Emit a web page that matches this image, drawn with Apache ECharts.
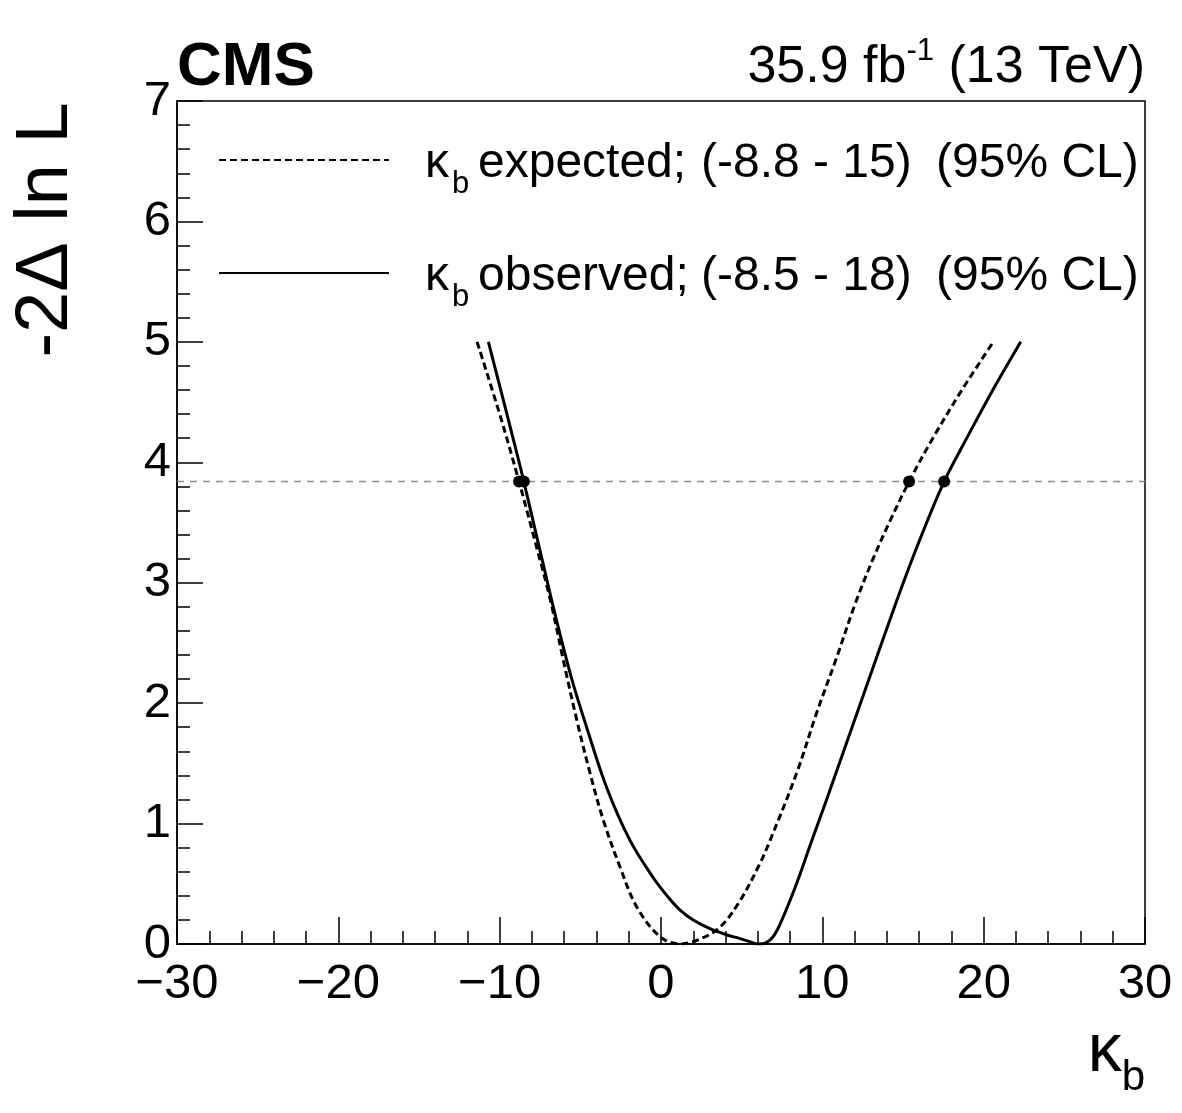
<!DOCTYPE html>
<html>
<head>
<meta charset="utf-8">
<script src="https://cdn.jsdelivr.net/npm/echarts@6/dist/echarts.min.js"></script>
<style>
  html, body { margin: 0; padding: 0; background: #fff; }
  #chart { width: 1182px; height: 1113px; }
</style>
</head>
<body>
<div id="chart"></div>
<script>
// expected scan (dashed)
const kappaExp = [-11.4, -10.0, -8.8, -7.7, -6.88, -6.06, -5.22, -4.4, -3.58, -2.54, -1.51, -0.06, 1.2, 2.4, 3.66, 4.9, 6.1, 6.76, 8.41, 9.65, 10.89, 12.05, 13.15, 14.15, 15.38, 16.85, 18.65, 20.6];
const nllExp = [5.0, 4.4, 3.84, 3.29, 2.87, 2.36, 1.86, 1.42, 1.03, 0.64, 0.31, 0.06, 0.0, 0.04, 0.14, 0.36, 0.66, 0.86, 1.42, 1.92, 2.38, 2.83, 3.2, 3.5, 3.84, 4.2, 4.6, 5.0];

// observed scan (solid)
const kappaObs = [-10.7, -9.55, -8.5, -6.77, -5.55, -4.61, -3.37, -1.92, -0.48, 0.5, 1.2, 2.0, 3.0, 4.1, 4.9, 5.5, 6.0, 6.5, 7.0, 7.56, 8.43, 9.3, 10.24, 12.42, 14.61, 16.02, 17.55, 19.11, 20.44, 22.3];
const nllObs = [5.0, 4.4, 3.84, 2.85, 2.21, 1.8, 1.3, 0.86, 0.55, 0.38, 0.28, 0.2, 0.13, 0.075, 0.045, 0.02, 0.0, 0.01, 0.07, 0.22, 0.51, 0.84, 1.19, 2.02, 2.85, 3.35, 3.84, 4.24, 4.57, 5.0];

// 95% CL crossings
const cl95 = 3.84;
const crossExp = [-8.8, 15.38];
const crossObs = [-8.5, 17.55];

const xTicks = [-30, -20, -10, 0, 10, 20, 30];
const yTicks = [0, 1, 2, 3, 4, 5, 6, 7];

const FONT = '"Liberation Sans", Arial, Helvetica, sans-serif';

function zip(xs, ys) {
  return xs.map((x, i) => [x, ys[i]]);
}

let myChart = echarts.init(document.getElementById('chart'));

myChart.setOption({
  backgroundColor: '#fff',
  animation: false,
  grid: {
    left: 177, right: 37, top: 101, bottom: 169,
    show: true, borderColor: '#000', borderWidth: 1.5
  },
  xAxis: {
    type: 'value',
    min: xTicks[0], max: xTicks[xTicks.length - 1], interval: 10,
    axisLine: { show: true, onZero: false, lineStyle: { color: '#000', width: 1.5 } },
    axisTick: { inside: true, length: 27, lineStyle: { color: '#000', width: 1.5 } },
    minorTick: { show: true, splitNumber: 5, length: 13, lineStyle: { color: '#000', width: 1.5 } },
    splitLine: { show: false },
    axisLabel: {
      color: '#000', fontSize: 49, fontFamily: FONT, margin: 16,
      formatter: v => String(v).replace('-', '\u2212')
    }
  },
  yAxis: {
    type: 'value',
    min: yTicks[0], max: yTicks[yTicks.length - 1], interval: 1,
    axisLine: { show: true, onZero: false, lineStyle: { color: '#000', width: 1.5 } },
    axisTick: { inside: true, length: 26, lineStyle: { color: '#000', width: 1.5 } },
    minorTick: { show: true, splitNumber: 5, length: 13, lineStyle: { color: '#000', width: 1.5 } },
    splitLine: { show: false },
    axisLabel: { color: '#000', fontSize: 49, fontFamily: FONT, margin: 6 }
  },
  legend: {
    data: ['expected', 'observed'],
    orient: 'vertical',
    left: 213, top: 115,
    itemWidth: 170, itemHeight: 30, itemGap: 33,
    selectedMode: false,
    itemStyle: { opacity: 0 },
    textStyle: {
      color: '#000', fontSize: 48, fontFamily: FONT, lineHeight: 72,
      padding: [8, 0, 0, 0],
      rich: {
        sp: { width: 31 },
        k: { fontSize: 48, fontFamily: FONT, lineHeight: 72, width: 27 },
        s: { fontSize: 31, fontFamily: FONT, verticalAlign: 'bottom', lineHeight: 20, width: 26 },
        a: { fontSize: 48, fontFamily: FONT, lineHeight: 72, width: 223 },
        c: { fontSize: 48, fontFamily: FONT, lineHeight: 72, width: 235 },
        d: { fontSize: 48, fontFamily: FONT, lineHeight: 72 }
      }
    },
    formatter: name => name === 'expected'
      ? '{sp|}{k|\u03ba}{s|b}{a|expected;}{c|(-8.8 - 15)}{d|(95% CL)}'
      : '{sp|}{k|\u03ba}{s|b}{a|observed;}{c|(-8.5 - 18)}{d|(95% CL)}'
  },
  graphic: [
    {
      type: 'text', left: 177, top: 37,
      style: { text: 'CMS', font: 'bold 62px ' + FONT, fill: '#000' }
    },
    {
      type: 'text', right: 37, top: 36,
      style: {
        text: '{m|35.9 fb}{sup|-1}{m| (13 TeV)}',
        fill: '#000',
        rich: {
          m: { fontSize: 52, fontFamily: FONT, lineHeight: 64 },
          sup: { fontSize: 31, fontFamily: FONT, verticalAlign: 'top', lineHeight: 30 }
        }
      }
    },
    {
      type: 'text', x: 47, y: 230, rotation: Math.PI / 2,
      style: {
        text: '-2\u0394 ln L', font: '74px ' + FONT, fill: '#000',
        align: 'center', verticalAlign: 'middle'
      }
    },
    {
      type: 'text', right: 37, top: 1018,
      style: {
        text: '{k|\u03ba}{sub|b}', fill: '#000',
        rich: {
          k: { fontSize: 68, fontFamily: FONT, lineHeight: 94 },
          sub: { fontSize: 42, fontFamily: FONT, verticalAlign: 'bottom', lineHeight: 30 }
        }
      }
    }
  ],
  series: [
    {
      name: 'cl95', type: 'line', silent: true, symbol: 'none',
      data: [[-30, cl95], [30, cl95]],
      lineStyle: { color: '#8c8c8c', width: 1.5, type: [7, 6] },
      z: 1
    },
    {
      name: 'expected', type: 'line', symbol: 'none', smooth: 0.35,
      data: zip(kappaExp, nllExp),
      lineStyle: { color: '#000', width: 3, type: [7, 4] },
      itemStyle: { color: '#000' },
      z: 2
    },
    {
      name: 'observed', type: 'line', symbol: 'none', smooth: 0.35,
      data: zip(kappaObs, nllObs),
      lineStyle: { color: '#000', width: 3, type: 'solid' },
      itemStyle: { color: '#000' },
      z: 3
    },
    {
      name: 'crossings', type: 'scatter', symbolSize: 12, silent: true,
      data: crossExp.concat(crossObs).map(x => [x, cl95]),
      itemStyle: { color: '#000', opacity: 1 },
      z: 4
    }
  ]
});
</script>
</body>
</html>
